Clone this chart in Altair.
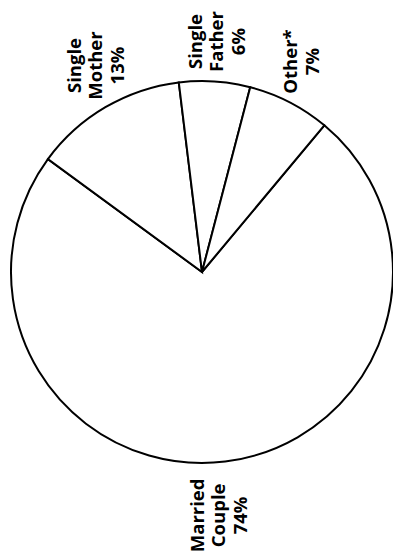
import math
import altair as alt
import pandas as pd

categories = ["Married Couple", "Single Mother", "Single Father", "Other*"]
labels = ["Married\nCouple\n74%", "Single\nMother\n13%", "Single\nFather\n6%", "Other*\n7%"]
shares = [74, 13, 6, 7]
slice_order = [0, 1, 2, 3]

df = pd.DataFrame({
    "category": categories,
    "label": labels,
    "share": shares,
    "ord": slice_order,
})

start = 0.695  # rotation of the first slice (radians, clockwise from 12 o'clock)
theta_scale = alt.Scale(domain=[0, 100], range=[start, start + 2 * math.pi])

pie = alt.Chart(df).mark_arc(
    outerRadius=191, fill="white", stroke="black", strokeWidth=2
).encode(
    theta=alt.Theta("share:Q", stack=True, scale=theta_scale),
    order=alt.Order("ord:Q"),
)

FONT = dict(
    angle=270,
    align="center",
    baseline="middle",
    lineBreak="\n",
    lineHeight=21.5,
    font="Open Sans",
    fontWeight="bold",
    fontSize=18.5,
    color="black",
)

# label placement tweaks: (angular nudge in share units, radius px)
placement = {
    "Married Couple": (0.8, 244),
    "Single Mother": (0.9, 232),
    "Single Father": (0.0, 231),
    "Other*": (-0.5, 233),
}


def label_layer(cat):
    nudge, rad = placement[cat]
    n_lines = labels[categories.index(cat)].count("\n") + 1
    return (
        alt.Chart(df)
        .transform_window(cum="sum(share)", sort=[alt.SortField("ord")])
        .transform_filter(alt.datum.category == cat)
        .transform_calculate(mid=f"datum.cum - datum.share / 2 + {nudge}")
        .mark_text(dy=-(n_lines - 1) * 21.5 / 2, radius=rad, **FONT)
        .encode(
            theta=alt.Theta("mid:Q", stack=None, scale=theta_scale),
            text="label:N",
        )
    )


chart = (
    alt.layer(pie, *[label_layer(c) for c in categories])
    .properties(
        width=382,
        height=528,
        autosize=alt.AutoSizeParams(type="none"),
        padding={"left": 3, "top": 0, "right": 0, "bottom": 16},
    )
    .configure_view(stroke=None)
)

chart.save("out.html", embed_options={"renderer": "svg", "actions": False})
